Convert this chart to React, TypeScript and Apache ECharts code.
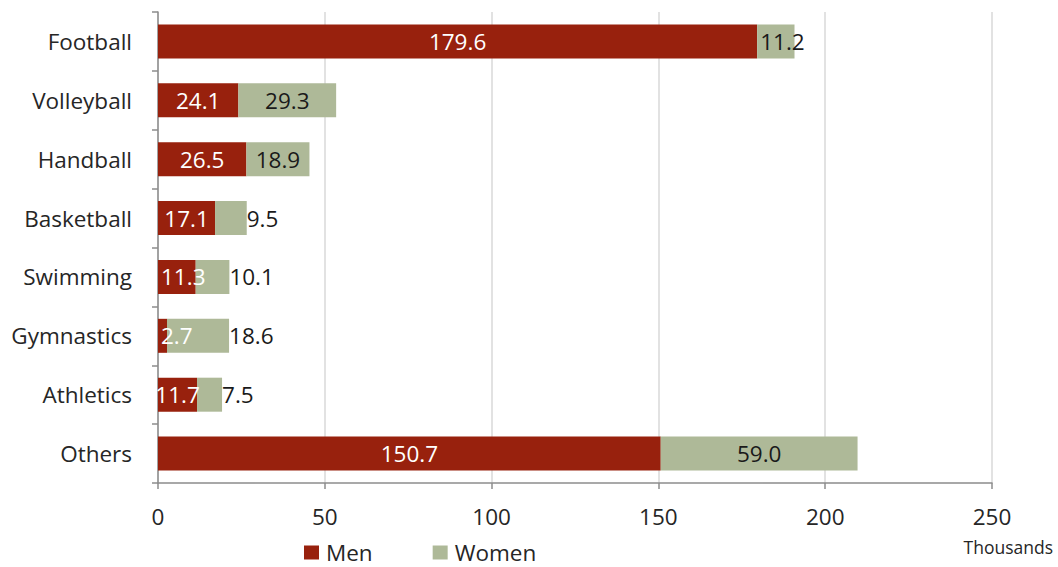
import React, { useEffect, useRef } from "react";
import * as echarts from "echarts";

const categories = [
  "Football",
  "Volleyball",
  "Handball",
  "Basketball",
  "Swimming",
  "Gymnastics",
  "Athletics",
  "Others",
];
const men = [179.6, 24.1, 26.5, 17.1, 11.3, 2.7, 11.7, 150.7];
const women = [11.2, 29.3, 18.9, 9.5, 10.1, 18.6, 7.5, 59.0];
const xTicks = [0, 50, 100, 150, 200, 250];

const FONT = "'Open Sans', 'Noto Sans', sans-serif";
const MEN_COLOR = "#98210D";
const WOMEN_COLOR = "#AEB998";
const TEXT_COLOR = "#262626";
const AXIS_COLOR = "#8c8c8c";
const FS = 22.5;
const FW = 400;

// Short segments get their labels pushed to the start or past the end
const menLabelPos: Record<string, string> = {
  Swimming: "insideLeft",
  Gymnastics: "insideLeft",
};
const womenLabelPos: Record<string, string> = {
  Football: "insideLeft",
  Basketball: "right",
  Swimming: "right",
  Gymnastics: "right",
  Athletics: "right",
};

export default function App() {
  const ref = useRef<HTMLDivElement>(null);

  useEffect(() => {
    document.body.style.margin = "0";
    if (!ref.current) return;
    const chart = echarts.init(ref.current, undefined, { renderer: "svg" });

    const menData = men.map((v, i) => {
      const pos = menLabelPos[categories[i]];
      return pos
        ? { value: v, label: { position: pos, distance: 3 } }
        : { value: v };
    });
    const womenData = women.map((v, i) => {
      const pos = womenLabelPos[categories[i]];
      return pos
        ? { value: v, label: { position: pos, distance: pos === "right" ? 0 : 3 } }
        : { value: v };
    });

    const valueLabel = (color: string) => ({
      show: true,
      position: "inside",
      color,
      fontSize: FS,
      fontFamily: FONT,
      fontWeight: FW,
      formatter: (p: any) => Number(p.value).toFixed(1),
    });

    chart.setOption({
      animation: false,
      textStyle: { fontFamily: FONT },
      grid: { left: 158, right: 66, top: 12, bottom: 84, containLabel: false },
      xAxis: {
        type: "value",
        min: xTicks[0],
        max: xTicks[xTicks.length - 1],
        interval: 50,
        axisLine: { show: true, lineStyle: { color: AXIS_COLOR, width: 1.5 } },
        axisTick: { show: true, length: 6, lineStyle: { color: AXIS_COLOR, width: 1.5 } },
        splitLine: { show: true, lineStyle: { color: "#d9d9d9", width: 1.5 } },
        axisLabel: {
          fontSize: FS,
          color: TEXT_COLOR,
          fontFamily: FONT,
          margin: 22,
          fontWeight: FW,
        },
      },
      yAxis: {
        type: "category",
        inverse: true,
        data: categories,
        axisLine: { show: true, lineStyle: { color: AXIS_COLOR, width: 1.5 } },
        axisTick: { show: true, length: 6, lineStyle: { color: AXIS_COLOR, width: 1.5 } },
        axisLabel: {
          fontSize: FS,
          color: TEXT_COLOR,
          fontFamily: FONT,
          margin: 26,
          fontWeight: FW,
        },
      },
      legend: {
        left: 304,
        top: 541,
        padding: 0,
        itemWidth: 15,
        itemHeight: 14,
        itemGap: 60,
        icon: "rect",
        textStyle: {
          fontSize: FS,
          lineHeight: 22,
          color: TEXT_COLOR,
          fontFamily: FONT,
          fontWeight: FW,
          padding: [0, 0, 0, 2],
        },
        data: ["Men", "Women"],
      },
      graphic: [
        {
          type: "text",
          right: 5,
          top: 538,
          style: {
            text: "Thousands",
            fontSize: 17.5,
            fill: TEXT_COLOR,
            fontFamily: FONT,
            fontWeight: FW,
          },
        },
      ],
      series: [
        {
          name: "Men",
          type: "bar",
          stack: "total",
          barWidth: 34,
          itemStyle: { color: MEN_COLOR },
          label: valueLabel("#ffffff"),
          data: menData,
        },
        {
          name: "Women",
          type: "bar",
          stack: "total",
          barWidth: 34,
          itemStyle: { color: WOMEN_COLOR },
          label: valueLabel("#1a1a1a"),
          data: womenData,
        },
      ],
    });

    return () => chart.dispose();
  }, []);

  return <div ref={ref} style={{ width: 1058, height: 567 }} />;
}
